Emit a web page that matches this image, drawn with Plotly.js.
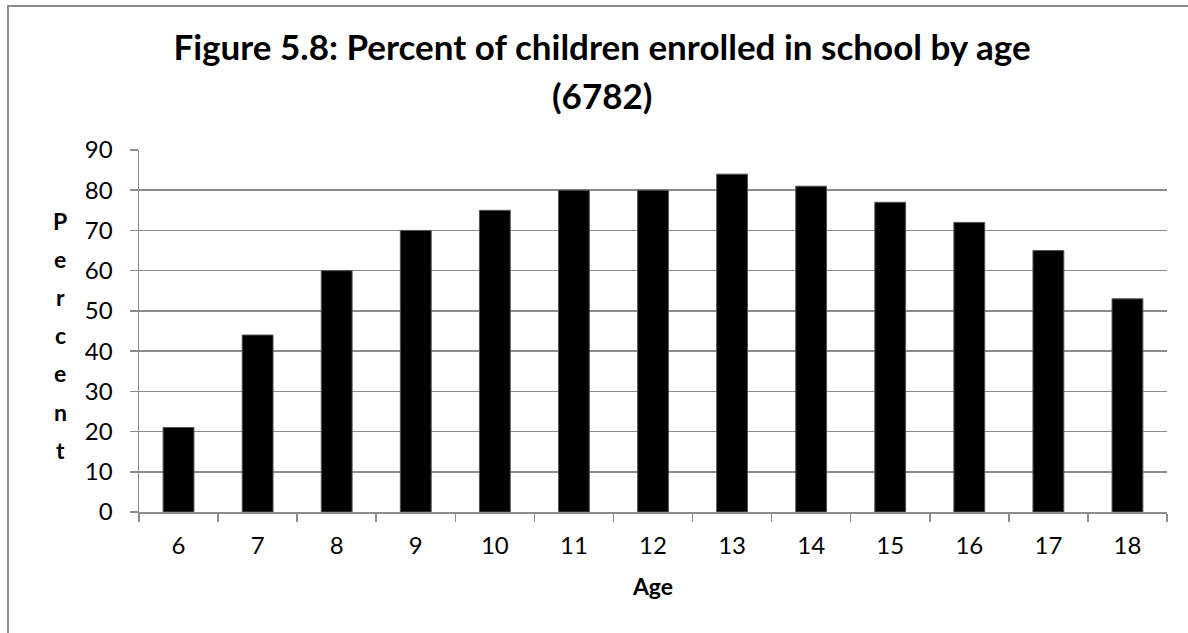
<!DOCTYPE html>
<html>
<head>
<meta charset="utf-8">
<script src="https://cdn.plot.ly/plotly-3.0.1.min.js"></script>
<style>html,body{margin:0;padding:0;background:#fff;}#chart{width:1188px;height:633px;}</style>
</head>
<body>
<div id="chart"></div>
<script>
const ages = ["6","7","8","9","10","11","12","13","14","15","16","17","18"];
const percentEnrolled = [21,44,60,70,75,80,80,84,81,77,72,65,53];
const titleLine1 = "Figure 5.8: Percent of children enrolled in school by age";
const titleLine2 = "(6782)";
const yAxisLabel = "Percent";
const xAxisLabel = "Age";
const yTickValues = [0,10,20,30,40,50,60,70,80,90];

// plot area geometry (px) for converting layout positions
const L = 139, R = 21, T = 150, B = 121, W = 1188, H = 633;
const pw = W - L - R, ph = H - T - B;
const px2x = p => (p - L) / pw;
const py2y = p => (H - B - p) / ph;

const font = "Lato, 'Open Sans', sans-serif";

const annotations = [];
annotations.push({
  text: "<b>" + titleLine2 + "</b>", xref: "paper", yref: "paper",
  x: px2x(602), y: py2y(95), xanchor: "center", yanchor: "middle",
  showarrow: false, font: {family: font, size: 35, color: "#000"}
});
yAxisLabel.split("").forEach((ch, i) => {
  annotations.push({
    text: "<b>" + ch + "</b>", xref: "paper", yref: "paper",
    x: px2x(60), y: py2y(221 + i * 38.1), xanchor: "center", yanchor: "middle",
    showarrow: false, font: {family: font, size: 23, color: "#000"}
  });
});

const layout = {
  width: W, height: H,
  margin: {l: L, r: R, t: T, b: B, pad: 0},
  paper_bgcolor: "#fff", plot_bgcolor: "#fff",
  showlegend: false,
  bargap: 0.61,
  title: {
    text: "<b>" + titleLine1 + "</b>",
    xref: "container", yref: "container",
    x: 602 / W, xanchor: "center", y: 1 - 48 / H, yanchor: "middle",
    font: {family: font, size: 35, color: "#000"}
  },
  xaxis: {
    type: "category",
    range: [-0.5, ages.length - 0.5],
    tickson: "boundaries",
    ticks: "outside", ticklen: 8, tickwidth: 1.5, tickcolor: "#8c8c8c",
    showline: true, linecolor: "#8c8c8c", linewidth: 1.5,
    showgrid: false, zeroline: false,
    tickfont: {family: font, size: 24, color: "#000"},
    ticklabelstandoff: 12,
    title: {text: "<b>" + xAxisLabel + "</b>", font: {family: font, size: 23, color: "#000"}, standoff: 20},
    fixedrange: true
  },
  yaxis: {
    range: [0, 90],
    tickvals: yTickValues,
    ticks: "outside", ticklen: 8, tickwidth: 1.5, tickcolor: "#8c8c8c",
    showline: true, linecolor: "#8c8c8c", linewidth: 1.5,
    showgrid: true, gridcolor: "#8c8c8c", gridwidth: 1.5,
    zeroline: false,
    tickfont: {family: font, size: 24, color: "#000"},
    ticklabelstandoff: 12,
    fixedrange: true
  },
  annotations: annotations,
  shapes: [{
    type: "path", xref: "paper", yref: "paper",
    path: `M ${px2x(8)} ${py2y(700)} L ${px2x(8)} ${py2y(6)} L ${px2x(1250)} ${py2y(6)}`,
    line: {color: "#8c8c8c", width: 2}
  }]
};

const data = [{
  type: "bar",
  x: ages,
  y: percentEnrolled,
  marker: {color: "#000", line: {color: "#555", width: 1}},
  hoverinfo: "x+y"
}];

Plotly.newPlot("chart", data, layout, {displayModeBar: false, staticPlot: true});
</script>
</body>
</html>
